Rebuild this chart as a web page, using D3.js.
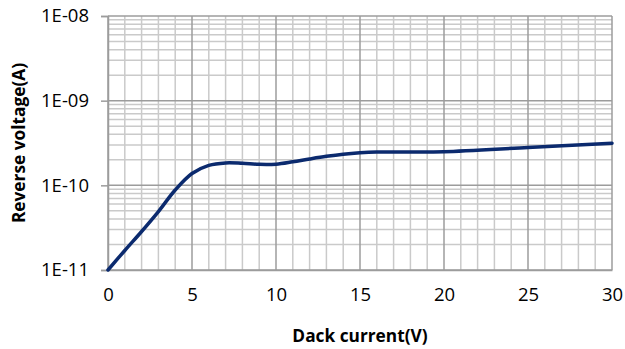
<!DOCTYPE html>
<html>
<head>
<meta charset="utf-8">
<script src="https://cdn.jsdelivr.net/npm/d3@7"></script>
<style>
  html, body { margin: 0; padding: 0; background: #fff; }
  svg { display: block; font-family: "Open Sans", sans-serif; }
</style>
</head>
<body>
<div id="chart"></div>
<script>
// readings
const xValues = [0, 1, 2, 3, 4, 5, 6, 7, 8, 9, 10, 11, 12, 13, 14, 15, 16, 18, 20, 25, 30];
const yValues = [1.0e-11, 1.7e-11, 2.85e-11, 4.9e-11, 8.8e-11, 1.38e-10, 1.72e-10, 1.84e-10, 1.82e-10,
                 1.77e-10, 1.78e-10, 1.9e-10, 2.05e-10, 2.2e-10, 2.33e-10, 2.42e-10, 2.47e-10,
                 2.48e-10, 2.5e-10, 2.8e-10, 3.15e-10];
const xTicks = [0, 5, 10, 15, 20, 25, 30];
const yTicks = [1e-11, 1e-10, 1e-9, 1e-8];
const yTickLabels = ["1E-11", "1E-10", "1E-09", "1E-08"];
const xTitle = "Dack current(V)";
const yTitle = "Reverse voltage(A)";

const width = 625, height = 349;
const margin = {top: 16, right: 13, bottom: 79, left: 108};

const svg = d3.select("#chart").append("svg")
    .attr("width", width)
    .attr("height", height);

const x = d3.scaleLinear().domain([0, 30]).range([margin.left, width - margin.right]);
const y = d3.scaleLog().domain([1e-11, 1e-8]).range([height - margin.bottom, margin.top]);

const grid = svg.append("g");

// minor grid
const minorX = d3.range(0, 31).filter(d => d % 5 !== 0);
const minorY = [];
yTicks.slice(0, -1).forEach(dec => {
    for (let k = 2; k <= 9; k++) minorY.push(dec * k);
});

grid.selectAll(".vminor").data(minorX).enter().append("line")
    .attr("x1", d => x(d)).attr("x2", d => x(d))
    .attr("y1", y(1e-8)).attr("y2", y(1e-11))
    .attr("stroke", "#cacaca").attr("stroke-width", 1.5);

grid.selectAll(".hminor").data(minorY).enter().append("line")
    .attr("x1", x(0)).attr("x2", x(30))
    .attr("y1", d => y(d)).attr("y2", d => y(d))
    .attr("stroke", "#cacaca").attr("stroke-width", 1.5);

// major grid
grid.selectAll(".vmajor").data(xTicks).enter().append("line")
    .attr("x1", d => x(d)).attr("x2", d => x(d))
    .attr("y1", y(1e-8)).attr("y2", y(1e-11))
    .attr("stroke", "#9c9c9c").attr("stroke-width", 1.5);

grid.selectAll(".hmajor").data(yTicks).enter().append("line")
    .attr("x1", x(0)).attr("x2", x(30))
    .attr("y1", d => y(d)).attr("y2", d => y(d))
    .attr("stroke", "#9c9c9c").attr("stroke-width", 1.5);

// axes
const yAxis = d3.axisLeft(y)
    .tickValues(yTicks)
    .tickFormat((d, i) => yTickLabels[i])
    .tickSize(7)
    .tickPadding(12);

const gy = svg.append("g")
    .attr("transform", `translate(${x(0)},0)`)
    .call(yAxis);
gy.select(".domain").attr("stroke", "#9c9c9c").attr("stroke-width", 1.5);
gy.selectAll(".tick line").attr("stroke", "#9c9c9c").attr("stroke-width", 1.5);
gy.selectAll("text").attr("font-size", 18.5).attr("fill", "#000")
    .attr("font-family", "'Open Sans', sans-serif");

const xAxis = d3.axisBottom(x)
    .tickValues(xTicks)
    .tickSize(0)
    .tickPadding(18);

const gx = svg.append("g")
    .attr("transform", `translate(0,${y(1e-11)})`)
    .call(xAxis);
gx.select(".domain").attr("stroke", "#9c9c9c").attr("stroke-width", 1.5);
gx.selectAll("text").attr("font-size", 18.5).attr("fill", "#000")
    .attr("font-family", "'Open Sans', sans-serif");

// curve
const line = d3.line()
    .x((d, i) => x(xValues[i]))
    .y(d => y(d))
    .curve(d3.curveCatmullRom.alpha(0.5));

svg.append("path")
    .datum(yValues)
    .attr("d", line)
    .attr("fill", "none")
    .attr("stroke", "#0b2a6e")
    .attr("stroke-width", 3.5)
    .attr("stroke-linecap", "round");

// titles
svg.append("text")
    .attr("x", (x(0) + x(30)) / 2)
    .attr("y", 342)
    .attr("text-anchor", "middle")
    .attr("font-size", 17.3)
    .attr("font-weight", "bold")
    .text(xTitle);

svg.append("text")
    .attr("transform", `translate(25,${(y(1e-8) + y(1e-11)) / 2}) rotate(-90)`)
    .attr("text-anchor", "middle")
    .attr("font-size", 17.3)
    .attr("font-weight", "bold")
    .text(yTitle);
</script>
</body>
</html>
